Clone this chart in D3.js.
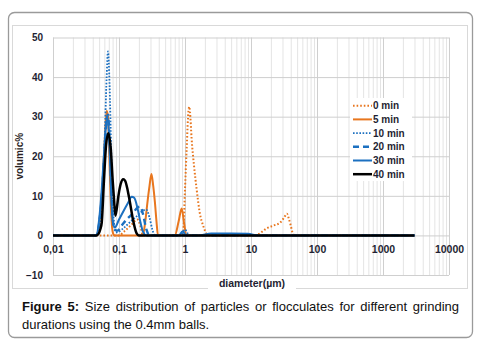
<!DOCTYPE html>
<html>
<head>
<meta charset="utf-8">
<script src="https://cdn.jsdelivr.net/npm/d3@7"></script>
<style>
  body { margin: 0; background: #fff; }
</style>
</head>
<body>
<svg width="481" height="346"></svg>
<script>
// values (diameter in µm, volume %)
const seriesNames = ['0 min', '5 min', '10 min', '20 min', '30 min', '40 min'];
const xTickValues = [0.01, 0.1, 1, 10, 100, 1000, 10000];
const xTickLabels = ['0,01', '0,1', '1', '10', '100', '1000', '10000'];
const yTickValues = [-10, 0, 10, 20, 30, 40, 50];

const d0 = [0.01, 0.1, 0.12, 0.15, 0.19, 0.21, 0.23, 0.9, 0.94, 1.0, 1.06, 1.13, 1.16, 1.19, 1.26, 1.37, 1.5, 1.67, 1.89, 2.1, 2.3, 12, 13, 17, 22, 27.5, 32, 35, 37, 40, 43.5, 47, 3000];
const v0 = [0, 0, 1, 2.5, 4, 2.5, 0, 0, 0.8, 11.7, 22, 31.5, 32.5, 31.2, 24.4, 17.6, 11.7, 5.8, 2.4, 0.5, 0, 0, 0.3, 1.7, 2.5, 3.2, 4.6, 5.5, 4.5, 2.5, 0.3, 0, 0];

const d5 = [0.01, 0.045, 0.05, 0.055, 0.06, 0.065, 0.068, 0.072, 0.076, 0.08, 0.085, 0.23, 0.25, 0.27, 0.29, 0.31, 0.33, 0.35, 0.37, 0.39, 0.7, 0.8, 0.89, 0.97, 1.05, 3000];
const v5 = [0, 0, 3, 10, 22, 31.5, 30, 18, 6, 1, 0, 0, 3.5, 8.4, 12.5, 15.5, 12.5, 8.4, 3.5, 0, 0, 3.5, 6.8, 3, 0, 0];

const d10 = [0.01, 0.045, 0.05, 0.055, 0.06, 0.065, 0.068, 0.072, 0.076, 0.08, 0.085, 0.09, 0.1, 0.12, 0.15, 0.19, 0.22, 0.26, 0.29, 0.32, 0.35, 0.8, 0.9, 1.0, 1.1, 1.2, 3000];
const v10 = [0, 0, 2, 8, 22, 40, 46.5, 38, 22, 9, 2.5, 0.8, 1, 2, 3.5, 5, 6, 6.5, 4.5, 1.5, 0, 0, 0.5, 1.5, 0.5, 0, 0];

const d20 = [0.01, 0.045, 0.05, 0.055, 0.06, 0.065, 0.068, 0.072, 0.076, 0.08, 0.085, 0.095, 0.11, 0.13, 0.16, 0.19, 0.21, 0.23, 0.26, 0.29, 3000];
const v20 = [0, 0, 3, 10, 20, 29, 30.5, 24, 13, 5, 1.5, 1.2, 2.5, 4, 5.5, 7, 7.3, 5.5, 1.5, 0, 0];

const d30 = [0.01, 0.045, 0.05, 0.055, 0.06, 0.065, 0.068, 0.072, 0.076, 0.08, 0.086, 0.1, 0.12, 0.14, 0.155, 0.17, 0.19, 0.21, 0.23, 0.26, 0.8, 0.92, 1.05, 1.6, 2.5, 5, 9, 13, 3000];
const v30 = [0, 0, 4, 12, 22, 29, 29.5, 22, 11, 4, 2, 4, 6.5, 8.5, 9.8, 9.5, 7, 3.5, 1, 0, 0, 1, 0, 0, 0.5, 0.5, 0.4, 0, 0];

const d40 = [0.01, 0.045, 0.0485, 0.052, 0.0547, 0.0592, 0.0636, 0.0689, 0.075, 0.08, 0.084, 0.088, 0.092, 0.098, 0.106, 0.116, 0.124, 0.135, 0.146, 0.165, 0.185, 0.2, 3000];
const v40 = [0, 0, 0.3, 1.5, 3.2, 14, 22.7, 25.8, 21.9, 14.2, 9.2, 5, 6.5, 10, 13, 14.2, 13.8, 11.5, 8.5, 3.5, 0.5, 0, 0];

const sizes = [d0, d5, d10, d20, d30, d40];
const volumes = [v0, v5, v10, v20, v30, v40];

const orange = '#E8761E', blue = '#1C70C0';
const styles = [
  {color: orange, width: 2, dash: '1.6,2'},
  {color: orange, width: 2, dash: null},
  {color: blue, width: 1.8, dash: '1.6,1.6'},
  {color: blue, width: 2.4, dash: '6,4'},
  {color: blue, width: 2, dash: null},
  {color: '#000', width: 2.5, dash: null}
];

const font = '"Liberation Sans", Arial, sans-serif';
const svg = d3.select('svg');

// outer frame + chart area
svg.append('rect').attr('x', 8.5).attr('y', 12.5).attr('width', 464).attr('height', 325)
  .attr('rx', 6).attr('fill', '#fff').attr('stroke', '#9a9a9a').attr('stroke-width', 1.3);
svg.append('rect').attr('x', 12.5).attr('y', 25.5).attr('width', 455).attr('height', 263)
  .attr('fill', '#fff').attr('stroke', '#d9d9d9');

const pLeft = 53, pRight = 449, pTop = 37.5, pBottom = 275;
const x = d3.scaleLog().domain([0.01, 10000]).range([pLeft, pRight]);
const y = d3.scaleLinear().domain([-10, 50]).range([pBottom, pTop]);

// vertical grid: minor and major
const minorVals = [];
for (let e = -2; e < 4; e++) for (let k = 2; k <= 9; k++) minorVals.push(k * Math.pow(10, e));
svg.append('g').attr('transform', `translate(0,${pBottom})`)
  .call(d3.axisBottom(x).tickValues(minorVals).tickSize(-(pBottom - pTop)).tickFormat(''))
  .call(g => g.select('.domain').remove())
  .call(g => g.selectAll('line').attr('stroke', '#e4e4e4'));
svg.append('g').attr('transform', `translate(0,${pBottom})`)
  .call(d3.axisBottom(x).tickValues(xTickValues).tickSize(-(pBottom - pTop)).tickFormat(''))
  .call(g => g.select('.domain').remove())
  .call(g => g.selectAll('line').attr('stroke', '#cfcfcf'));

// horizontal grid + y labels
svg.append('g').attr('transform', `translate(${pLeft},0)`)
  .call(d3.axisLeft(y).tickValues(yTickValues).tickSize(-(pRight - pLeft)).tickPadding(10).tickFormat(d3.format('d')))
  .call(g => g.select('.domain').remove())
  .call(g => g.selectAll('line').attr('stroke', '#cfcfcf'))
  .call(g => g.selectAll('text').attr('font-family', font).attr('font-size', 10)
    .attr('font-weight', 'bold').attr('fill', '#1f1f33'));

// x labels sit under the zero line
svg.append('g').attr('transform', `translate(0,${y(0)})`)
  .call(d3.axisBottom(x).tickValues(xTickValues).tickSize(0).tickPadding(10)
    .tickFormat((d, i) => xTickLabels[i]))
  .call(g => g.select('.domain').remove())
  .call(g => g.selectAll('text').attr('font-family', font).attr('font-size', 10.5)
    .attr('font-weight', 'bold').attr('fill', '#1f1f33'));

// axis titles
svg.append('text').attr('transform', `translate(23,${(pTop + pBottom) / 2}) rotate(-90)`)
  .attr('text-anchor', 'middle').attr('font-family', font).attr('font-size', 10)
  .attr('font-weight', 'bold').attr('fill', '#2a1f1f').text('volumic%');
svg.append('rect').attr('x', 208).attr('y', 284).attr('width', 88).attr('height', 8).attr('fill', '#fff');
svg.append('text').attr('x', 252).attr('y', 287).attr('text-anchor', 'middle')
  .attr('font-family', font).attr('font-size', 10.5).attr('font-weight', 'bold')
  .attr('fill', '#1f1f33').text('diameter(µm)');

// lines
const line = d3.line().x(d => x(d[0])).y(d => y(d[1])).curve(d3.curveMonotoneX);
sizes.forEach((ds, i) => {
  const pts = ds.map((d, j) => [d, volumes[i][j]]);
  svg.append('path').datum(pts).attr('d', line).attr('fill', 'none')
    .attr('stroke', styles[i].color).attr('stroke-width', styles[i].width)
    .attr('stroke-dasharray', styles[i].dash);
});

// legend
const lg = svg.append('g');
lg.append('rect').attr('x', 350).attr('y', 98).attr('width', 62).attr('height', 83).attr('fill', '#fff');
seriesNames.forEach((name, i) => {
  const cy = 105.7 + i * 13.7;
  lg.append('line').attr('x1', 353).attr('x2', 372).attr('y1', cy).attr('y2', cy)
    .attr('stroke', styles[i].color).attr('stroke-width', styles[i].width)
    .attr('stroke-dasharray', styles[i].dash);
  lg.append('text').attr('x', 373).attr('y', cy + 3.6).attr('font-family', font)
    .attr('font-size', 10).attr('font-weight', 'bold').attr('fill', '#1f1f33').text(name);
});

// caption, first line justified to the frame width
const cap1 = svg.append('text').attr('x', 22).attr('y', 311).attr('font-family', font)
  .attr('font-size', 13).attr('fill', '#111');
cap1.append('tspan').attr('font-weight', 'bold').text('Figure 5:');
cap1.append('tspan').text(' Size distribution of particles or flocculates for different grinding');
const natural = cap1.node().getComputedTextLength();
cap1.attr('word-spacing', (437 - natural) / 10);
svg.append('text').attr('x', 22).attr('y', 329).attr('font-family', font)
  .attr('font-size', 13).attr('fill', '#111').text('durations using the 0.4mm balls.');
</script>
</body>
</html>
